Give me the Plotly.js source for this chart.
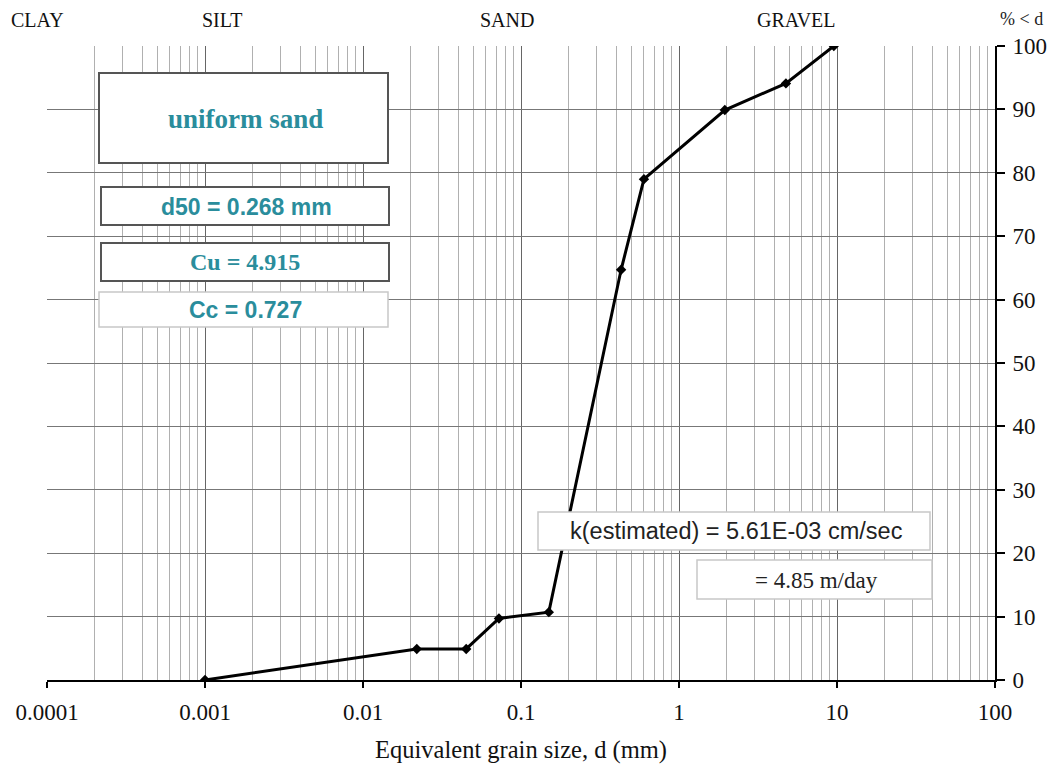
<!DOCTYPE html>
<html>
<head>
<meta charset="utf-8">
<script src="https://cdn.plot.ly/plotly-3.0.1.min.js"></script>
<style>html,body{margin:0;padding:0;background:#fff;}#chart{width:1052px;height:769px;}</style>
</head>
<body>
<div id="chart"></div>
<script>
// Grain size distribution data
const grainSize = [0.001, 0.0219, 0.045, 0.0725, 0.15, 0.43, 0.6, 1.95, 4.75, 9.55];
const percentFiner = [0, 4.9, 4.9, 9.7, 10.7, 64.7, 79, 89.9, 94.1, 100];

const xTickVals = [0.0001, 0.001, 0.01, 0.1, 1, 10, 100];
const xTickText = ['0.0001', '0.001', '0.01', '0.1', '1', '10', '100'];
const yTickVals = [0, 10, 20, 30, 40, 50, 60, 70, 80, 90, 100];

const soilClasses = ['CLAY', 'SILT', 'SAND', 'GRAVEL'];
const soilClassPos = [0.036, 0.211, 0.482, 0.757]; // fraction of page width (centres)

const titleText = 'uniform sand';
const statTexts = ['d50 = 0.268 mm', 'Cu = 4.915', 'Cc = 0.727'];
const kTexts = ['k(estimated) = 5.61E-03 cm/sec', '= 4.85 m/day'];

const W = 1052, H = 769;
const L = 47, R = 57, T = 46, B = 89;
const PW = W - L - R, PH = H - T - B;
const px = x => (x - L) / PW;
const py = y => (H - B - y) / PH;

const serif = 'Liberation Serif, Times New Roman, serif';
const sans = 'Liberation Sans, Arial, sans-serif';
const teal = '#2a8d9c';

function box(x0, y0, x1, y1, color, width) {
  return {type: 'rect', xref: 'paper', yref: 'paper', x0: px(x0), x1: px(x1), y0: py(y1), y1: py(y0),
    line: {color: color, width: width}, fillcolor: '#ffffff', layer: 'above'};
}
function label(text, cx, cy, font) {
  return {xref: 'paper', yref: 'paper', x: px(cx), y: py(cy), text: text, showarrow: false,
    xanchor: 'center', yanchor: 'middle', font: font};
}

const shapes = [
  box(99, 73, 388, 163, '#555', 2),
  box(101, 187, 389, 225, '#555', 2),
  box(101, 243, 389, 281, '#555', 2),
  box(99, 292, 388, 327, '#c8c8c8', 1.5),
  box(538, 512, 930, 550, '#c8c8c8', 1.5),
  box(697, 560, 932, 599, '#c8c8c8', 1.5)
];

const annotations = [
  label(titleText, 245, 119, {family: serif, size: 27, color: teal, weight: 'bold'}),
  label(statTexts[0], 246, 207, {family: sans, size: 23, color: teal, weight: 'bold'}),
  label(statTexts[1], 245, 262, {family: serif, size: 24, color: teal, weight: 'bold'}),
  label(statTexts[2], 245, 310, {family: sans, size: 23, color: teal, weight: 'bold'}),
  label(kTexts[0], 736, 531, {family: sans, size: 23.5, color: '#222'}),
  label(kTexts[1], 816, 580, {family: serif, size: 23, color: '#222'}),
  label('% < d', 1021, 19, {family: serif, size: 18, color: '#222'})
];
soilClasses.forEach((c, i) => {
  annotations.push(label(c, soilClassPos[i] * W, 20, {family: serif, size: 20, color: '#111'}));
});

const trace = {
  x: grainSize, y: percentFiner, type: 'scatter', mode: 'lines+markers',
  line: {color: '#000', width: 3},
  marker: {color: '#000', size: 8, symbol: 'diamond'},
  hoverinfo: 'x+y'
};

const layout = {
  width: W, height: H,
  margin: {l: L, r: R, t: T, b: B, pad: 0},
  paper_bgcolor: '#fff', plot_bgcolor: '#fff',
  showlegend: false,
  font: {family: serif, color: '#111'},
  xaxis: {
    type: 'log', range: [-4, 2],
    tickvals: xTickVals, ticktext: xTickText,
    tickfont: {family: serif, size: 23, color: '#111'},
    showgrid: true, gridcolor: '#666', gridwidth: 1,
    minor: {dtick: 'D1', showgrid: true, gridcolor: '#b0b0b0', gridwidth: 1, ticks: ''},
    showline: true, linecolor: '#000', linewidth: 2,
    ticks: 'outside', ticklen: 6, tickcolor: '#000', tickwidth: 2,
    ticklabelstandoff: 4,
    zeroline: false,
    title: {text: 'Equivalent grain size, d (mm)', font: {family: serif, size: 24.5, color: '#111'}, standoff: 17}
  },
  yaxis: {
    range: [0, 100], side: 'right',
    tickvals: yTickVals,
    tickfont: {family: serif, size: 23, color: '#111'},
    showgrid: true, gridcolor: '#777', gridwidth: 1,
    showline: true, linecolor: '#000', linewidth: 2,
    ticks: 'outside', ticklen: 8, tickcolor: '#000', tickwidth: 2,
    ticklabelstandoff: 3,
    zeroline: false
  },
  shapes: shapes,
  annotations: annotations
};

Plotly.newPlot('chart', [trace], layout, {displayModeBar: false, staticPlot: true});
</script>
</body>
</html>
